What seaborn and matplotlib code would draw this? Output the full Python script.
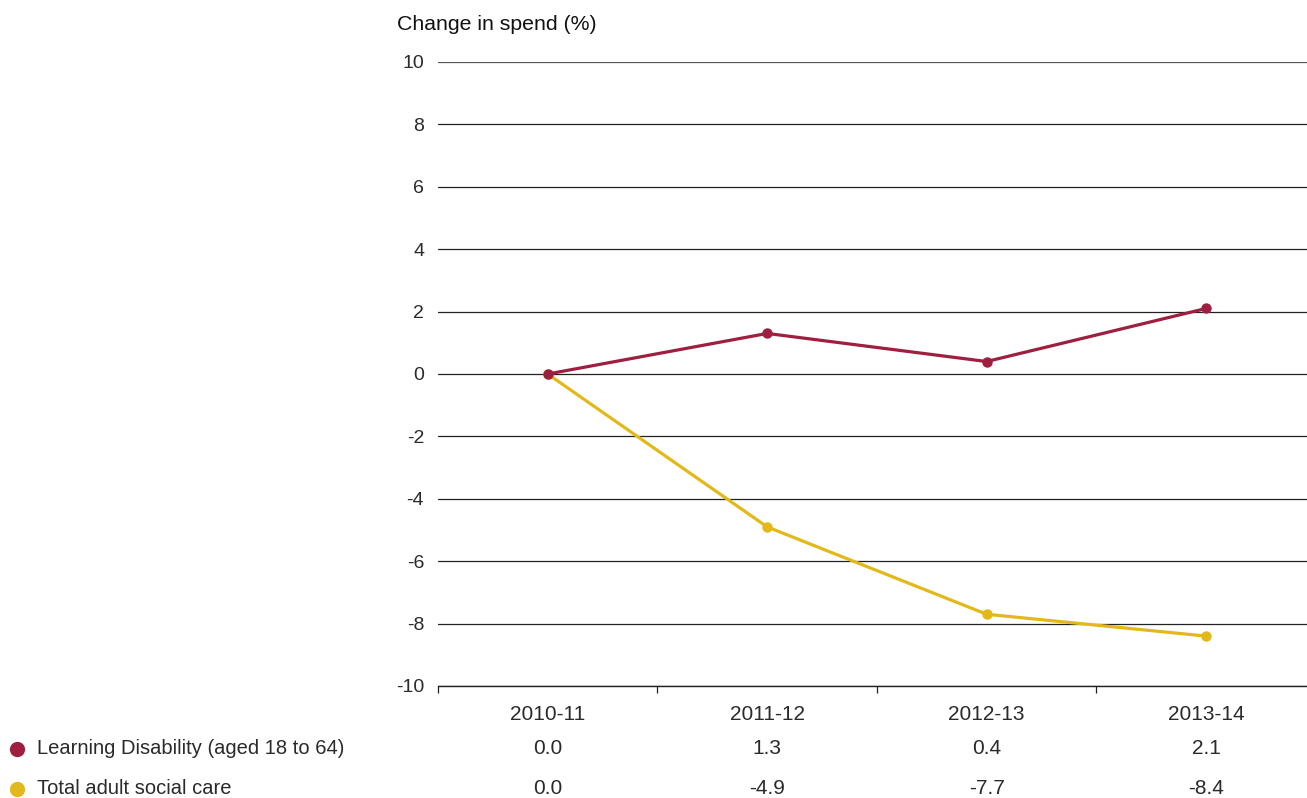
import pandas as pd
import matplotlib.pyplot as plt
import seaborn as sns
from matplotlib.lines import Line2D
from matplotlib.transforms import blended_transform_factory

# Data
years = ['2010-11', '2011-12', '2012-13', '2013-14']
learning_disability = [0.0, 1.3, 0.4, 2.1]
total_adult_care = [0.0, -4.9, -7.7, -8.4]
series_names = ['Learning Disability (aged 18 to 64)', 'Total adult social care']
y_ticks = [-10, -8, -6, -4, -2, 0, 2, 4, 6, 8, 10]

colors = ['#9e1f3f', '#e2b918']

data = pd.DataFrame({
    'Year': years * 2,
    'x': list(range(len(years))) * 2,
    'Change': learning_disability + total_adult_care,
    'Series': [series_names[0]] * len(years) + [series_names[1]] * len(years),
})

sns.set_style('white')
plt.rcParams['font.family'] = ['Liberation Sans', 'DejaVu Sans']

W, H = 1307, 798
fig = plt.figure(figsize=(W / 100, H / 100), dpi=100)
ax = fig.add_axes([438 / W, 1 - 686 / H, (1307 - 438) / W, (686 - 62) / H])

# Horizontal grid lines
for yv in y_ticks:
    ax.axhline(yv, color='#222222' if yv != 10 else '#555555', linewidth=0.9, zorder=1)

# Lines: draw total first, then learning disability on top
sns.lineplot(data=data, x='x', y='Change', hue='Series', hue_order=series_names[::-1],
             palette=colors[::-1], marker='o', markersize=7.5, markeredgewidth=0,
             linewidth=2.3, legend=False, ax=ax, zorder=3)

ax.set_xlim(-0.5, 3.46)
ax.set_ylim(-10, 10)
ax.set_yticks(y_ticks)
ax.set_yticklabels([str(v) for v in y_ticks], fontsize=14, color='#2a2a2a')
ax.tick_params(axis='y', length=0, pad=10)
ax.set_xticks(range(len(years)))
ax.set_xticklabels(years, fontsize=15, color='#2a2a2a')
ax.set_xticks([-0.5, 0.5, 1.5, 2.5], minor=True)
ax.tick_params(axis='x', which='major', bottom=True, length=0, pad=14)
ax.tick_params(axis='x', which='minor', bottom=True, length=5, width=0.9,
               color='#222222', direction='out')
ax.set_xlabel('')
ax.set_ylabel('')

for side in ['top', 'right', 'left']:
    ax.spines[side].set_visible(False)
ax.spines['bottom'].set_color('#222222')
ax.spines['bottom'].set_linewidth(1.0)

# Axis title
fig.text(397 / W, 1 - 24 / H, 'Change in spend (%)', fontsize=15.3, color='#111111',
         ha='left', va='center')

# Data table below the chart
trans = blended_transform_factory(ax.transData, fig.transFigure)
rows = [learning_disability, total_adult_care]
row_y = [749, 789]
for vals, yp, name, col in zip(rows, row_y, series_names, colors):
    for i, v in enumerate(vals):
        ax.text(i, 1 - yp / H, f'{v:.1f}', transform=trans, ha='center', va='center',
                fontsize=15, color='#2a2a2a', clip_on=False)
    fig.add_artist(Line2D([17 / W], [1 - yp / H], marker='o', markersize=11,
                          color=col, markeredgewidth=0, linestyle='none',
                          transform=fig.transFigure))
    fig.text(37 / W, 1 - yp / H, name, fontsize=14.5, color='#2a2a2a',
             ha='left', va='center')

plt.savefig('out.png', dpi=100)
